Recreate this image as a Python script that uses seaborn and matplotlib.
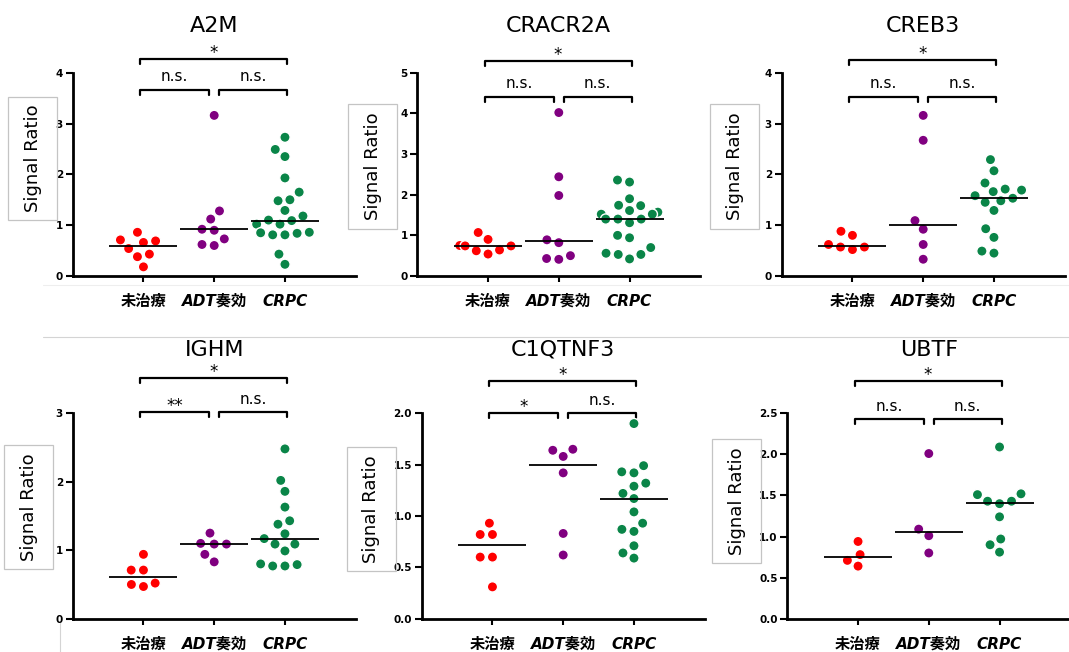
import matplotlib
matplotlib.use("Agg")
import matplotlib.pyplot as plt
import matplotlib.transforms as mtransforms
from matplotlib.patches import Rectangle
from matplotlib.lines import Line2D
import numpy as np
import pandas as pd
import seaborn as sns

# groups and genes
groups = ["未治療", "ADT奏効", "CRPC"]
genes = ["A2M", "CRACR2A", "CREB3", "IGHM", "C1QTNF3", "UBTF"]

# values (signal ratio)
a2m_untreated = [0.86, 0.69, 0.66, 0.71, 0.54, 0.43, 0.38, 0.18]
a2m_adt = [3.16, 1.28, 1.12, 0.92, 0.90, 0.73, 0.60, 0.62]
a2m_crpc = [2.73, 2.49, 2.35, 1.93, 1.65, 1.50, 1.48, 1.29, 1.18, 1.09,
            1.10, 1.02, 1.02, 0.85, 0.81, 0.81, 0.84, 0.86, 0.43, 0.23]
a2m_medians = [0.59, 0.92, 1.09]

cracr2a_untreated = [1.07, 0.90, 0.75, 0.64, 0.54, 0.62, 0.74, 0.74]
cracr2a_adt = [4.02, 2.44, 1.98, 0.89, 0.82, 0.50, 0.41, 0.43]
cracr2a_crpc = [2.36, 2.31, 1.90, 1.73, 1.74, 1.57, 1.52, 1.61, 1.52, 1.40,
                1.31, 1.40, 1.40, 1.00, 0.94, 0.70, 0.53, 0.42, 0.53, 0.56]
cracr2a_medians = [0.75, 0.87, 1.41]

creb3_untreated = [0.88, 0.80, 0.57, 0.52, 0.57, 0.62]
creb3_adt = [3.16, 2.67, 1.09, 0.92, 0.62, 0.33]
creb3_crpc = [2.29, 2.07, 1.83, 1.71, 1.66, 1.69, 1.53, 1.48, 1.45, 1.58,
              1.29, 0.93, 0.76, 0.45, 0.49]
creb3_medians = [0.60, 1.00, 1.54]

ighm_untreated = [0.94, 0.71, 0.71, 0.52, 0.50, 0.47]
ighm_adt = [1.25, 1.09, 1.09, 1.10, 0.94, 0.83]
ighm_crpc = [2.48, 2.02, 1.86, 1.63, 1.43, 1.38, 1.24, 1.17, 1.09, 1.09,
             0.99, 0.79, 0.77, 0.77, 0.80]
ighm_medians = [0.61, 1.09, 1.17]

c1qtnf3_untreated = [0.93, 0.82, 0.82, 0.60, 0.60, 0.31]
c1qtnf3_adt = [1.64, 1.65, 1.58, 1.42, 0.83, 0.62]
c1qtnf3_crpc = [1.90, 1.49, 1.42, 1.43, 1.32, 1.29, 1.22, 1.17, 1.04, 0.93,
                0.85, 0.87, 0.71, 0.64, 0.59]
c1qtnf3_medians = [0.72, 1.50, 1.17]

ubtf_untreated = [0.94, 0.78, 0.71, 0.64]
ubtf_adt = [2.01, 1.09, 1.01, 0.80]
ubtf_crpc = [2.09, 1.51, 1.52, 1.43, 1.43, 1.40, 1.24, 0.97, 0.90, 0.81]
ubtf_medians = [0.75, 1.05, 1.41]

# significance labels: (untreated vs ADT, ADT vs CRPC, untreated vs CRPC)
a2m_sig = ["n.s.", "n.s.", "*"]
cracr2a_sig = ["n.s.", "n.s.", "*"]
creb3_sig = ["n.s.", "n.s.", "*"]
ighm_sig = ["**", "n.s.", "*"]
c1qtnf3_sig = ["*", "n.s.", "*"]
ubtf_sig = ["n.s.", "n.s.", "*"]

# y axis tops and tick steps
y_tops = [4, 5, 4, 3, 2.0, 2.5]
y_steps = [1, 1, 1, 1, 0.5, 0.5]

panel_values = [
    [a2m_untreated, a2m_adt, a2m_crpc],
    [cracr2a_untreated, cracr2a_adt, cracr2a_crpc],
    [creb3_untreated, creb3_adt, creb3_crpc],
    [ighm_untreated, ighm_adt, ighm_crpc],
    [c1qtnf3_untreated, c1qtnf3_adt, c1qtnf3_crpc],
    [ubtf_untreated, ubtf_adt, ubtf_crpc],
]
panel_medians = [a2m_medians, cracr2a_medians, creb3_medians,
                 ighm_medians, c1qtnf3_medians, ubtf_medians]
panel_sig = [a2m_sig, cracr2a_sig, creb3_sig, ighm_sig, c1qtnf3_sig, ubtf_sig]

palette = {"未治療": "#ff0000", "ADT奏効": "#800080", "CRPC": "#0a8548"}

sns.set_style("ticks")
plt.rcParams["font.family"] = ["DejaVu Sans", "Noto Sans CJK JP"]
plt.rcParams["text.color"] = "black"
plt.rcParams["axes.edgecolor"] = "black"
plt.rcParams["xtick.color"] = "black"
plt.rcParams["ytick.color"] = "black"

W, H = 1069, 652
fig = plt.figure(figsize=(W / 100, H / 100), dpi=100)

# layout in pixels: axes left, axes bottom, axes height
lefts = [72.7, 417.3, 781.7, 72.7, 421.7, 787.3]
bottoms = [276, 276, 276, 618.7, 618.7, 618.7]
heights = [203.3, 203.3, 203.3, 205.4, 205.4, 205.4]
axw = 283
title_base = [31.7, 31.7, 31.7, 355.7, 355.7, 355.7]
# bracket heights (axes fraction): lower pair, top
br_low = [0.917, 0.882, 0.882, 1.006, 1.0, 0.971]
br_top = [1.065, 1.058, 1.062, 1.17, 1.157, 1.157]
# y-label boxes x0, y0, x1, y1 in pixels
label_boxes = [(8.3, 96.7, 56.7, 220), (348.3, 104, 397.3, 229),
               (710, 104, 759, 229), (4, 445, 53, 569),
               (347, 447, 396, 571), (712, 439, 761, 563)]

# faint separators left over from the pasted screenshots
fig.add_artist(Line2D([43 / W, 1], [1 - 337 / H] * 2, color="#d4d4d4", lw=0.8))
fig.add_artist(Line2D([43 / W, 1], [1 - 285 / H] * 2, color="#eeeeee", lw=0.8))
fig.add_artist(Line2D([60 / W] * 2, [0, 1 - 623 / H], color="#d4d4d4", lw=0.8))

for k, gene in enumerate(genes):
    ax = fig.add_axes([lefts[k] / W, 1 - bottoms[k] / H, axw / W, heights[k] / H])
    rows = []
    for g, vals in zip(groups, panel_values[k]):
        for v in vals:
            rows.append({"group": g, "value": v})
    df = pd.DataFrame(rows)
    sns.swarmplot(data=df, x="group", y="value", hue="group", order=groups,
                  palette=palette, size=7.4, linewidth=1, edgecolor="white",
                  legend=False, ax=ax, zorder=3)
    # median lines
    for i, m in enumerate(panel_medians[k]):
        ax.hlines(m, i - 0.48, i + 0.48, color="black", lw=1.3, zorder=5)

    ax.set_xlim(-1, 3)
    ax.set_ylim(0, y_tops[k])
    yt = np.arange(0, y_tops[k] + 1e-9, y_steps[k])
    ax.set_yticks(yt)
    if y_steps[k] < 1:
        ax.set_yticklabels([f"{t:.1f}" for t in yt])
    else:
        ax.set_yticklabels([f"{t:.0f}" for t in yt])
    ax.set_xticks([0, 1, 2])
    ax.set_xticklabels(groups)
    ax.set_xlabel("")
    ax.set_ylabel("")
    sns.despine(ax=ax)
    for s in ["left", "bottom"]:
        ax.spines[s].set_linewidth(2)
    ax.tick_params(axis="y", length=5, width=1.5, labelsize=7.5, pad=2)
    ax.tick_params(axis="x", length=4, width=1.5, pad=9)
    for lab in ax.get_yticklabels():
        lab.set_fontweight("bold")
    for lab, g in zip(ax.get_xticklabels(), groups):
        lab.set_fontsize(11)
        lab.set_fontweight("bold")
        lab.set_fontstyle("normal" if g == "未治療" else "italic")

    # gene title over middle group
    trans = mtransforms.blended_transform_factory(ax.transData, fig.transFigure)
    ax.text(1, 1 - title_base[k] / H, gene, transform=trans, ha="center",
            va="baseline", fontsize=16)

    # significance brackets
    bt = mtransforms.blended_transform_factory(ax.transData, ax.transAxes)
    leg = 5 / heights[k]
    spans = [(-0.05, 0.93), (1.07, 2.03), (-0.05, 2.03)]
    levels = [br_low[k], br_low[k], br_top[k]]
    for (x0, x1), yb, txt in zip(spans, levels, panel_sig[k]):
        ax.plot([x0, x0, x1, x1], [yb - leg, yb, yb, yb - leg], color="black",
                lw=1.6, transform=bt, clip_on=False, solid_joinstyle="round",
                solid_capstyle="round")
        off = 1 if "*" in txt else 6
        fs = 12 if "*" in txt else 11
        ax.annotate(txt, xy=((x0 + x1) / 2, yb), xycoords=bt,
                    xytext=(0, off), textcoords="offset points",
                    ha="center", va="baseline", fontsize=fs)

    # boxed y label
    x0, y0, x1, y1 = label_boxes[k]
    fig.add_artist(Rectangle((x0 / W, 1 - y1 / H), (x1 - x0) / W, (y1 - y0) / H,
                             transform=fig.transFigure, fill=False,
                             edgecolor="#c4c4c4", lw=0.9))
    fig.text((x0 + x1) / 2 / W, 1 - (y0 + y1) / 2 / H, "Signal Ratio",
             rotation=90, ha="center", va="center", fontsize=13)

fig.savefig("out.png", dpi=100)
